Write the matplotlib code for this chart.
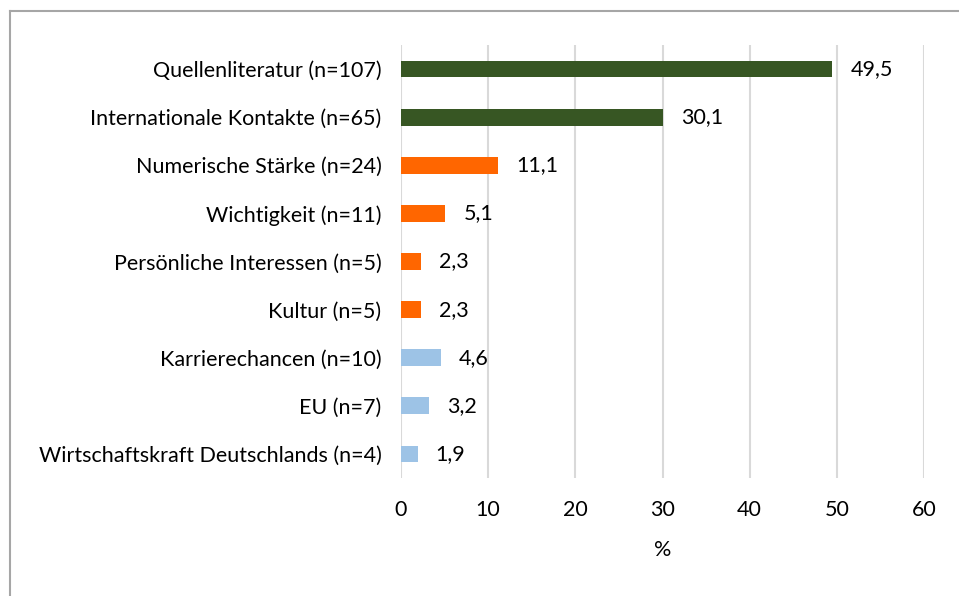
import matplotlib
matplotlib.use("Agg")
import matplotlib.pyplot as plt
from matplotlib.lines import Line2D

categories = [
    "Quellenliteratur (n=107)",
    "Internationale Kontakte (n=65)",
    "Numerische Stärke (n=24)",
    "Wichtigkeit (n=11)",
    "Persönliche Interessen (n=5)",
    "Kultur (n=5)",
    "Karrierechancen (n=10)",
    "EU (n=7)",
    "Wirtschaftskraft Deutschlands (n=4)",
]
values = [49.5, 30.1, 11.1, 5.1, 2.3, 2.3, 4.6, 3.2, 1.9]
groups = ["g", "g", "o", "o", "o", "o", "b", "b", "b"]
group_colors = {"g": "#375623", "o": "#FF6600", "b": "#9DC3E6"}
xticks = [0, 10, 20, 30, 40, 50, 60]
xlabel = "%"

plt.rcParams['font.family'] = ['Lato', 'DejaVu Sans']
FS = 15.5

fig = plt.figure(figsize=(9.59, 5.96), dpi=100)
ax = fig.add_axes([401/959, 1-478/596, (924-401)/959, (478-45)/596])

ypos = list(range(len(categories)))
colors = [group_colors[g] for g in groups]
ax.barh(ypos, values, height=0.35, color=colors, zorder=3)
for y, v in zip(ypos, values):
    ax.annotate(f"{v:.1f}".replace(".", ","), (v, y), xytext=(13, 0),
                textcoords="offset points", va="center", ha="left",
                fontsize=FS, color="#000000")

ax.set_xlim(0, 60)
ax.set_ylim(len(categories) - 0.5, -0.5)
ax.set_xticks(xticks)
ax.set_xticklabels([str(t) for t in xticks], fontsize=FS)
ax.set_yticks(ypos)
ax.set_yticklabels(categories, fontsize=FS)
ax.tick_params(axis="both", length=0)
ax.tick_params(axis="x", pad=16)
ax.tick_params(axis="y", pad=14)
ax.set_xlabel(xlabel, fontsize=FS, labelpad=14)
ax.grid(axis="x", color="#D9D9D9", linewidth=1.5, zorder=0)
for s in ax.spines.values():
    s.set_visible(False)

fig.add_artist(Line2D([9.5/959, 9.5/959], [0, 1-10.5/596], transform=fig.transFigure,
                      color="#A6A6A6", linewidth=1.5))
fig.add_artist(Line2D([9.5/959, 1], [1-10.5/596, 1-10.5/596], transform=fig.transFigure,
                      color="#A6A6A6", linewidth=1.5))

fig.savefig("out.png", dpi=100, facecolor="white")
